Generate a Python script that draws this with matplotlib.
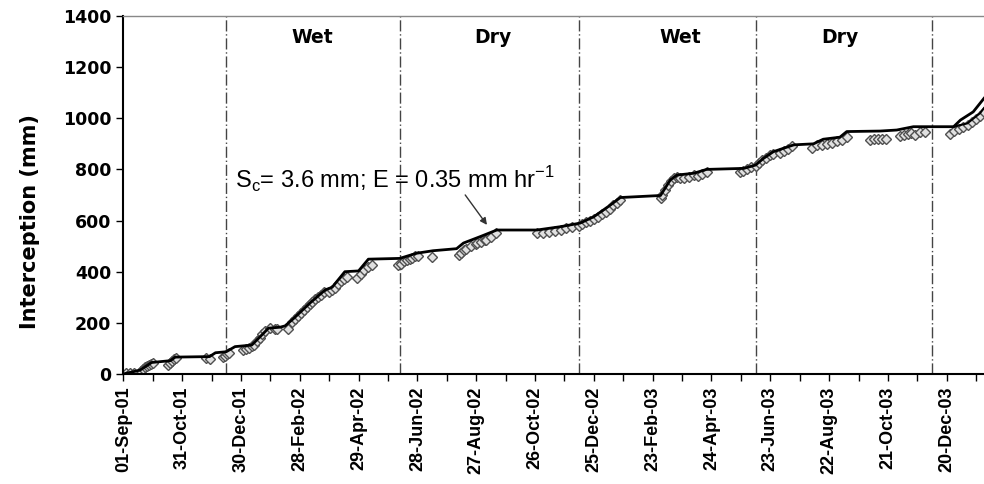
import numpy as np
import matplotlib
matplotlib.use('Agg')
import matplotlib.pyplot as plt

# days since 01-Sep-2001
model_day = [0, 17, 29, 48, 53, 88, 94, 105, 114, 131, 143, 148, 160, 165, 174, 190, 206, 213,
             226, 240, 250, 282, 299, 316, 340, 347, 364, 381, 422, 446, 466, 480, 497, 507,
             548, 558, 565, 582, 595, 633, 645, 653, 663, 673, 684, 704, 714, 731, 738, 772,
             789, 806, 847, 854, 867, 878]
model_mm = [0, 15, 45, 52, 66, 68, 83, 87, 107, 113, 159, 179, 183, 188, 218, 276, 329, 339,
            400, 403, 449, 452, 472, 482, 490, 512, 537, 563, 563, 576, 590, 615, 661, 690,
            698, 759, 778, 785, 800, 804, 817, 843, 869, 882, 896, 900, 918, 926, 948, 950,
            954, 967, 967, 993, 1025, 1078]

model2_day = [847, 861, 874, 878]
model2_mm = [967, 980, 1020, 1040]

obs_day = [3, 7, 11, 18, 20, 22, 24, 26, 28, 30, 46, 48, 50, 52, 54, 84, 88, 102, 104, 106,
           108, 122, 125, 128, 131, 133, 136, 139, 142, 145, 150, 155, 157, 168, 172, 175,
           178, 181, 184, 187, 190, 193, 196, 199, 202, 205, 210, 213, 216, 219, 222, 225,
           228, 238, 242, 246, 250, 254, 280, 283, 286, 289, 292, 295, 298, 301, 315, 342,
           345, 348, 350, 355, 360, 361, 365, 369, 370, 375, 380, 422, 428, 434, 440, 446,
           452, 458, 465, 468, 472, 476, 480, 484, 488, 492, 496, 500, 504, 507, 548, 550,
           553, 556, 559, 562, 565, 568, 572, 577, 582, 586, 590, 595, 629, 632, 636, 640,
           645, 648, 652, 656, 660, 663, 670, 674, 678, 682, 703, 708, 713, 718, 723, 728,
           733, 738, 762, 766, 770, 774, 778, 792, 796, 800, 804, 808, 813, 818, 843, 847,
           852, 857, 862, 866, 870, 874, 878]
obs_mm = [2, 2, 3, 12, 20, 28, 33, 37, 40, 42, 35, 42, 52, 58, 62, 62, 58, 65, 72, 78,
          82, 92, 97, 103, 110, 115, 128, 142, 155, 168, 178, 175, 176, 175, 205, 215,
          228, 240, 252, 262, 272, 282, 292, 300, 310, 320, 322, 330, 338, 350, 362, 372,
          380, 374, 390, 405, 418, 426, 425, 432, 440, 445, 450, 455, 460, 463, 459, 465,
          475, 485, 490, 500, 510, 512, 518, 522, 525, 535, 550, 550, 552, 555, 560, 565,
          570, 575, 580, 585, 595, 600, 608, 615, 625, 635, 645, 660, 670, 680, 687, 700,
          720, 740, 755, 765, 770, 768, 768, 770, 778, 775, 782, 788, 790, 795, 800, 810,
          815, 825, 835, 845, 855, 860, 865, 873, 880, 890, 885, 895, 897, 900, 905, 910,
          915, 925, 915, 918, 920, 920, 920, 930, 935, 940, 942, 935, 948, 948, 940, 950,
          958, 965, 975, 985, 998, 1010, 1025]

tick_labels = ['01-Sep-01', '31-Oct-01', '30-Dec-01', '28-Feb-02', '29-Apr-02', '28-Jun-02',
               '27-Aug-02', '26-Oct-02', '25-Dec-02', '23-Feb-03', '24-Apr-03', '23-Jun-03',
               '22-Aug-03', '21-Oct-03', '20-Dec-03']
season_bounds = [105, 282, 465, 645, 825]
season_names = ['Wet', 'Dry', 'Wet', 'Dry']
season_centers = [193, 377, 568, 731]

fig = plt.figure(figsize=(9.84, 4.84), dpi=100)
ax = fig.add_axes([0.1253, 0.2273, 0.8747, 0.7397])

for b in season_bounds:
    ax.axvline(b, color='#444444', lw=1.0, ls=(0, (8, 2, 1, 2)), zorder=1)

ax.plot(obs_day, obs_mm, ls='none', marker='D', ms=5, mfc='#e0e0e0', mec='#505050',
        mew=1.0, zorder=2)
ax.plot(model_day, model_mm, color='k', lw=2, zorder=3)
ax.plot(model2_day, model2_mm, color='k', lw=1.5, zorder=3)

for xc, name in zip(season_centers, season_names):
    ax.text(xc, 1314, name, ha='center', va='center', fontsize=13.5,
            fontweight='bold', family='DejaVu Sans')

ax.annotate(r'S$_{\mathregular{c}}$= 3.6 mm; E = 0.35 mm hr$^{\mathregular{-1}}$',
            xy=(371, 583), xytext=(114, 759), fontsize=17, family='Liberation Sans',
            va='center', ha='left',
            arrowprops=dict(arrowstyle='-|>', color='#333333', lw=1, mutation_scale=10,
                            shrinkA=0, shrinkB=0, patchA=None,
                            relpos=(0.72, 0.0)))

ax.set_xlim(0, 878)
ax.set_ylim(0, 1400)
ax.set_xticks(np.arange(0, 60 * len(tick_labels), 60))
ax.set_xticklabels(tick_labels, rotation=90, fontsize=13, fontweight='bold',
                   family='Liberation Sans')
ax.set_xticks(np.arange(30, 900, 60), minor=True)
ax.set_yticks(np.arange(0, 1401, 200))
ax.set_yticklabels([str(v) for v in range(0, 1401, 200)], fontsize=12.5,
                   fontweight='bold', family='DejaVu Sans')
ax.tick_params(axis='both', which='both', direction='out', length=5, width=1, colors='k')
ax.tick_params(axis='x', pad=4)

ax.spines['right'].set_visible(False)
ax.spines['top'].set_color('#888888')
ax.spines['top'].set_linewidth(1)
ax.spines['left'].set_linewidth(1.5)
ax.spines['bottom'].set_linewidth(1.5)

fig.text(30 / 984, 1 - 222 / 484, 'Interception (mm)', rotation=90, ha='center',
         va='center', fontsize=15, fontweight='bold', family='DejaVu Sans')

fig.savefig('out.png', dpi=100)
